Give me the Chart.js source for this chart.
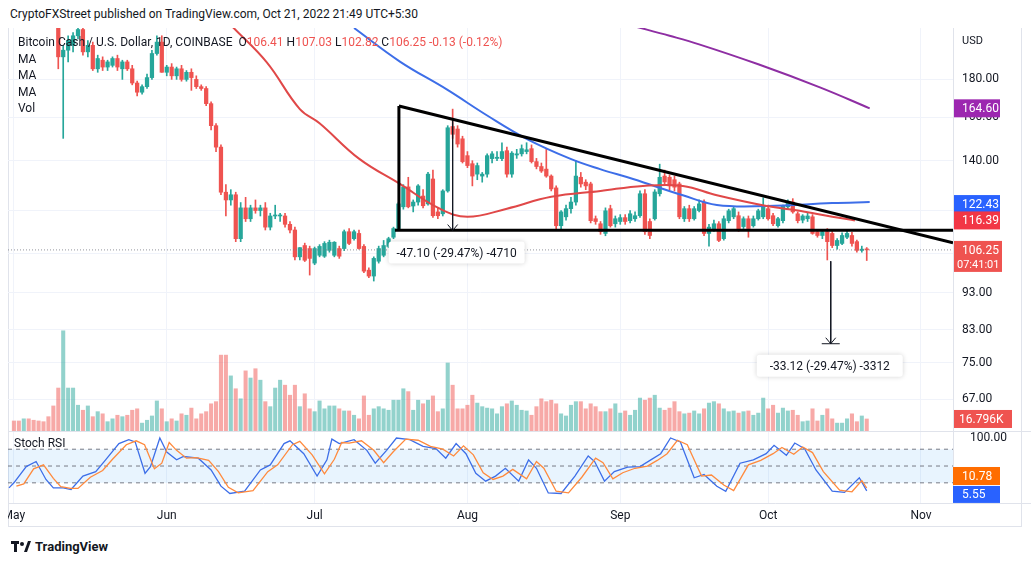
<!DOCTYPE html>
<html><head><meta charset="utf-8">
<script src="https://cdn.jsdelivr.net/npm/chart.js@4.4.0/dist/chart.umd.min.js"></script>
<style>
body{margin:0;width:1031px;height:564px;background:#fff;font-family:Roboto,"Liberation Sans",sans-serif;color:#131722;position:relative;overflow:hidden}
#hdr{position:absolute;left:10px;top:7px;font-size:12px}
#frame{position:absolute;left:8px;top:28px;width:1014px;height:499px;border:1px solid #e0e3eb;border-top:none;box-sizing:border-box}
#c1{position:absolute;left:8px;top:28px}
#c2{position:absolute;left:8px;top:431px}
#leg{position:absolute;left:18px;top:34px;font-size:12px;line-height:16.5px}
#leg .r{color:#ef5350}
#usd{position:absolute;left:962px;top:34px;font-size:11px}
#ftr{position:absolute;left:11px;top:539px;font-size:13px;font-weight:bold;display:flex;align-items:center;gap:4px}
</style></head><body>
<div id="hdr">CryptoFXStreet published on TradingView.com, Oct 21, 2022 21:49 UTC+5:30</div>
<div id="frame"></div>
<canvas id="c1" width="1023" height="403"></canvas>
<canvas id="c2" width="1023" height="96"></canvas>
<div id="leg">Bitcoin Cash / U.S. Dollar, 1D, COINBASE &nbsp;O<span class="r">106.41</span> H<span class="r">107.03</span> L<span class="r">102.82</span> C<span class="r">106.25</span> <span class="r">-0.13 (-0.12%)</span><br>MA<br>MA<br>MA<br>Vol</div>
<div id="usd">USD</div>
<div id="ftr"><svg width="20" height="12" viewBox="0 0 20 12"><rect x="0" y="0" width="8" height="3" fill="#131722"/><rect x="3" y="0" width="3" height="11" fill="#131722"/><circle cx="11" cy="3" r="2" fill="#131722"/><path d="M13 11 L17 0 L20 0 L16 11 Z" fill="#131722"/></svg>TradingView</div>
<script>
// ---------- DATA ----------
const monthDays = [0,31,61,92,123,153,184];
const monthLabels = ["May","Jun","Jul","Aug","Sep","Oct","Nov"];
// daily candles [open, high, low, close], day 0 = May 1, 2022
const ohlc = [
[300,305,290,296],[296,300,282,285],[285,292,278,290],[290,293,275,280],[280,284,262,265],[265,270,245,250],[250,258,238,240],[240,248,228,232],[232,236,215,218],
[218,222,186,193],[193,200,150,197],[197,206,190,203],[200,208,196,206],[206,212,204,210],[210,212,194,196],[196,203,193,200],[200,202,185,186],[186,194,184,192],[191,193,185,187],
[187,191,185,190],[188,193,187,192],[192,194,185,187],[186,191,180,190],[190,191,185,186],[186,188,177,178],[178,179,171,173],[173,177,172,176],[176,183,175,181],[181,197,180,195],
[195,206,194,202],[202,206,184,184],[184,188,182,187],[187,189,180,182],[182,187,180,186],[186,188,179,180],[180,185,179,184],[184,186,174,181],[180,182,175,176],[176,177,174,175],
[175,176,166,167],[167,168,154,156],[156,157,144,146],[146,147,126,127],[127,130,118,124],[124,128,122,126],[126,127,109,110],[110,123,109,121],[121,125,116,117],[117,122,116,121],
[121,124,119,120],[120,122,118,121],[121,123,113,114],[114,119,113,118],[118,122,117,118],[118,119,116,118],[118,119,114,115],[115,116,112,113],[113,114,103,104],[104,107,103,107],
[107.7,108.5,102.5,102.9],[106.7,107.5,98.3,103.5],[102,107.2,101.5,106.7],[104.5,108,104,107.4],[104.2,109,103.8,108.4],[106.1,109.5,105.5,108.8],[104.5,109,104,108.8],[106.7,107.5,103.5,104.2],
[106.7,113,106,112.4],[112.4,113.5,108,108.4],[110,113,109.5,112.4],[111.8,113,106.5,106.7],[107.4,108,99,99.5],[99.8,100.5,97.5,98],[98,104,96.5,103.5],[102.6,107.5,102,106.7],
[104.5,109.4,104,107.7],[107.4,110.5,107,110],[110.5,114,110,113.5],[113.5,123,113,122.5],[121.4,130,120.5,129.1],[129.1,133,121,121.4],[121.7,124,119.5,123.2],[123.2,130,122,129.5],
[125.5,128,121,121.8],[122.5,135,122,134.3],[132.3,136,117.5,118.1],[119.5,121,117,118.1],[118.8,128,118,127.5],[127.5,156,127,155],[155.6,164.2,150,151.9],[154.4,156,146,147.4],
[149.8,151,139,139.6],[142.2,144,137,137.9],[138.7,140,129.5,133.5],[134.3,139,132,137.9],[133.5,135,131,134.3],[134.3,143,133,142.2],[140.9,144,139,143],[141,144,140,141.5],
[140.9,148,140,144],[144.4,146,133,134.3],[134.3,144,133,143.3],[142.5,145,141,143],[143,147,142,145.3],[144,148,143,144.8],[145.3,147,139,139.6],[139.6,141,136.5,137.5],
[137.5,139,135,135.6],[136.4,145,133,133.5],[133.5,134,127.5,128.3],[128.7,129.5,113.5,114.5],[114.5,120,113.5,119.5],[117.7,122,116.5,120.7],[120.7,125,119,123.2],[123.2,140,122,133.5],
[133,135,129,130.3],[131,132,128,129.5],[130.3,131,115.5,116.3],[117,118,115,116],
[115.2,116,111.5,112.4],[111.8,121,111,119.9],[120.7,122,114,114.5],[115.2,118,114,117],[116,118.5,115,117.4],[117.4,118.5,115,116],[116.3,120,115.5,118.8],[117,119.5,116,118.1],
[118.1,127.5,117.5,126.4],[126.4,128,111.5,112.4],[116,117,110,111.1],[117,128,116.5,127.1],[126.4,138.5,125.5,133],[133.5,136,130,131.1],[133,134,128,129.5],[132,133.5,127.5,129],
[130.3,131,117,117.7],[117,121.5,116,120.7],[120.7,122,116,117],[117,121.5,116.5,120.7],[120,124,119.5,122.5],[123.2,124,111,111.8],[111.8,115,107.5,114],[113.1,116.5,112.5,115.2],
[115.2,116,109,109.4],[110,118,109.5,117],[116.3,120.5,115.5,119.9],[117.7,121.5,117,120.7],[118.1,119.5,112.5,113.1],[114.2,117.7,113.5,117],[117,118,110.5,113.5],[114.5,118,114,117],
[117,120.5,116.5,119.9],[117.7,124.8,117,121.4],[120.7,122,116.5,117],[118.1,119,114.5,115.2],[114.5,117.5,114,117],[116.3,122,115.5,121.7],[121.4,124,120.5,123.2],[123.2,124.5,119,119.5],
[118.8,119.5,115.5,116.3],[116.5,118.5,115.5,118],[117,119,116,118],[117.7,118.5,111.5,111.8],[112.4,113,110.5,111.1],[111.1,113,110,112.4],[112.4,113.5,103,109],[111.8,112.5,107,107.7],
[107.7,110,106.5,109.4],[108.4,112,108,111.1],[110.5,112.5,110,111.8],[111.1,112.2,107.5,108.4],[109,109.5,105.5,106.1],[106.1,107.5,105.5,106.5],[106.41,107.03,102.82,106.25]
];
// volume in thousands
const volume = [14,14,17,17,15,14,13,20,35,60,140,
60,60,36,29,35,20,27,24,13,17,22,20,22,29,31,11,15,21,42,31,13,17,14,24,22,32,17,24,27,38,41,
106,106,
77,59,45,84,74,87,71,41,34,60,71,64,50,64,34,52,31,27,42,31,35,35,31,28,28,22,17,49,22,31,
34,31,29,43,43,59,55,29,43,38,43,49,27,31,
95,
64,31,31,36,50,39,34,32,31,24,34,38,42,36,29,28,22,34,45,41,43,38,24,21,36,41,41,31,38,34,
27,27,31,38,25,28,22,29,46,43,46,50,32,29,32,41,27,24,25,28,24,31,39,41,38,31,27,28,25,27,
28,22,25,46,31,36,25,32,28,29,22,13,14,31,14,22,31,17,11,11,17,24,13,21,16.796];
// moving averages [day, price]
const maRed = [[44.4,211.6],[51.3,189.7],[58,164.2],[62,157.2],[70,140.9],[78.3,130.3],[86.4,120.7],[92,117.7],[100,120.7],[109,125.2],[119,127.5],[127.6,129.5],[135.7,129.5],[142.6,125.8],[152.7,121.7],[159.4,119.9],[166,117.7],[170.6,116.4]];
const maBlue = [[69,211],[78.3,190.2],[87.8,174.5],[96,161],[104,149.8],[112.8,140.9],[118.9,136.4],[125.6,132.3],[135.7,125.8],[142.6,122.1],[152.7,121.7],[166,122.8],[173.6,123.2]];
const maPurple = [[126,212],[133,206],[139,200.6],[151,188.6],[163.5,175.6],[173.6,164.6]];
// stoch RSI [day, value]
const stochK = [[-1,11],[0,20],[2.5,49],[4.5,58],[6.5,26],[8,11],[10,11],[11.6,8],[14,32],[16.6,40],[18.6,61],[21.3,90],[23.3,97],[24.6,93],[26.6,37],[27.7,49],[29.6,100],[31,75],[33,61],[34.4,67],[37.4,64],[40,43],[42,14],[43.8,1],[46.8,5],[50,43],[52,52],[54.8,90],[56,95],[58.8,72],[61.5,32],[63.5,61],[64.5,98],[66,90],[69,97],[71.6,78],[73.3,55],[75.6,78],[77.6,100],[80.3,97],[83,85],[85.6,81],[87.6,64],[89.7,90],[91.7,72],[93.7,37],[95.7,23],[97.7,32],[99.7,46],[102.4,23],[104.4,61],[106,46],[108.4,2],[111,1],[113.8,32],[116.5,68],[117.8,58],[119.8,23],[121.8,40],[124.5,48],[127,49],[129.2,61],[131.2,72],[133.2,100],[135.2,93],[138,29],[140,35],[142.6,14],[144.4,5],[147.3,55],[150,61],[152.6,72],[154.2,87],[156.7,69],[158.4,91],[160.4,81],[162.7,43],[166,5],[168.5,3],[171.5,29],[173,5.55]];
const stochD = [[0.5,14],[2,18],[4,45],[6,52],[8,28],[9.5,13],[11.5,10],[13,10],[15.5,30],[18,42],[20,62],[22.8,88],[24.8,95],[26.5,88],[28.5,45],[30,55],[31.5,92],[33,78],[35,64],[37,65],[39.5,60],[41.5,40],[43.5,12],[45.5,2],[48.5,6],[51.5,40],[53.5,52],[56.5,88],[58,94],[60.5,70],[63,36],[65,62],[66.5,92],[68,91],[70.5,95],[73,78],[75,56],[77,76],[79.5,98],[82,96],[84.5,85],[87,80],[89.2,68],[91.2,86],[93.2,70],[95.2,38],[97.2,26],[99.2,32],[101.2,44],[104,27],[106,58],[107.5,46],[110,5],[112.5,2],[115.2,30],[118,64],[119.5,56],[121.5,27],[123.5,38],[126,46],[128.5,50],[130.5,60],[132.5,72],[134.6,96],[136.6,88],[139.5,32],[141.5,34],[144,16],[146,6],[149,52],[151.5,60],[154,72],[155.8,83],[158.2,71],[160,84],[162,74],[164.2,40],[167.5,7],[170,4],[172,24],[173,10.78]];
// drawn pattern lines [day, price]
const triVertical = [[78.1,165.8],[78.1,112.8]];
const triUpper = [[78.1,165.8],[190.5,108.6]];
const triLower = [[77.3,112.9],[190.5,112.9]];
const arrow1 = [[89,159.5],[89,112.8]];
const arrow2 = [[165.7,102.6],[165.7,79.5]];
const arrowLabels = ["-47.10 (-29.47%) -4710","-33.12 (-29.47%) -3312"];
const priceTicks = [67,75,83,93,105,120,140,160,180];
const lastClose = 106.25, lastTime = "07:41:01", lastVolLabel = "16.796K";
const maLast = {purple:164.60, blue:122.43, red:116.39};
// ---------- BUILD ----------
const GREEN='#26a69a', RED='#ef5350';
const days = ohlc.map((_,i)=>i);
const isUp = i => ohlc[i][3] >= ohlc[i][0];
const pts = a => a.map(p=>({x:p[0],y:p[1]}));
const XMIN=-1.2, XMAX=190.5;
function fixAxisWidth(s){ s.width = 78; s.paddingTop = 0; s.paddingBottom = 0; }
function noPadX(s,h){ s.height = h; s.paddingLeft = 0; s.paddingRight = 0; }
const FONT='12px Roboto, "Liberation Sans", sans-serif';

const mainPlugin = {
  id:'mainDeco',
  afterDatasetsDraw(chart){
    const {ctx, chartArea:a, scales:{x,y}} = chart;
    ctx.save();
    const yc = y.getPixelForValue(lastClose);
    ctx.strokeStyle='rgba(120,123,134,0.8)'; ctx.lineWidth=1; ctx.setLineDash([1,2]);
    ctx.beginPath(); ctx.moveTo(a.left,yc); ctx.lineTo(a.right,yc); ctx.stroke(); ctx.setLineDash([]);
    ctx.strokeStyle='#131722'; ctx.lineWidth=1;
    const ax1=x.getPixelForValue(arrow1[1][0]), ay1=y.getPixelForValue(arrow1[1][1]);
    ctx.beginPath(); ctx.moveTo(ax1-5,ay1-6); ctx.lineTo(ax1,ay1); ctx.lineTo(ax1+5,ay1-6); ctx.stroke();
    const ax2=x.getPixelForValue(arrow2[1][0]), ay2=y.getPixelForValue(arrow2[1][1]);
    ctx.beginPath(); ctx.moveTo(ax2-5,ay2-6); ctx.lineTo(ax2,ay2); ctx.lineTo(ax2+5,ay2-6); ctx.stroke();
    ctx.beginPath(); ctx.moveTo(ax2-9,ay2); ctx.lineTo(ax2+9,ay2); ctx.stroke();
    function box(cx,cy,w,txt){
      ctx.save(); ctx.shadowColor='rgba(0,0,0,0.18)'; ctx.shadowBlur=5;
      ctx.fillStyle='#fff'; ctx.beginPath(); ctx.roundRect(cx-w/2,cy-11,w,22,3); ctx.fill(); ctx.restore();
      ctx.fillStyle='#131722'; ctx.font=FONT;
      ctx.textAlign='center'; ctx.textBaseline='middle'; ctx.fillText(txt,cx,cy+1);
    }
    box(ax1+4, ay1+22, 136, arrowLabels[0]);
    box(ax2-1, ay2+22, 146, arrowLabels[1]);
    ctx.font=FONT; ctx.textAlign='left'; ctx.textBaseline='middle';
    function tag(val,txt,bg){
      const ty=y.getPixelForValue(val);
      ctx.fillStyle=bg; ctx.fillRect(a.right,ty-9,47,18);
      ctx.fillStyle='#fff'; ctx.fillText(txt,a.right+9,ty+1);
    }
    tag(maLast.purple, maLast.purple.toFixed(2), '#9c27b0');
    tag(maLast.blue, maLast.blue.toFixed(2), '#2962ff');
    tag(maLast.red, maLast.red.toFixed(2), '#f23645');
    ctx.fillStyle=RED; ctx.fillRect(a.right,yc-9,49,31);
    ctx.fillStyle='#fff'; ctx.fillText(lastClose.toFixed(2),a.right+9,yc+1);
    ctx.font='11px Roboto, "Liberation Sans", sans-serif'; ctx.fillText(lastTime,a.right+4,yc+15);
    ctx.font=FONT;
    const v = chart.scales.v, vy=v.getPixelForValue(volume[volume.length-1]);
    ctx.fillStyle=RED; ctx.fillRect(a.right,vy-9,59,18);
    ctx.fillStyle='#fff'; ctx.fillText(lastVolLabel,a.right+6,vy+1);
    ctx.strokeStyle='#e0e3eb'; ctx.beginPath(); ctx.moveTo(a.right+0.5,0); ctx.lineTo(a.right+0.5,chart.height); ctx.stroke();
    ctx.restore();
  }
};

new Chart(document.getElementById('c1'), {
  type:'bar',
  data:{datasets:[
    {type:'line',data:pts(triVertical),borderColor:'#000',borderWidth:3,pointRadius:0,order:1,yAxisID:'y'},
    {type:'line',data:pts(triUpper),borderColor:'#000',borderWidth:3,pointRadius:0,order:1,yAxisID:'y'},
    {type:'line',data:pts(triLower),borderColor:'#000',borderWidth:3,pointRadius:0,order:1,yAxisID:'y'},
    {type:'line',data:pts(arrow1),borderColor:'#131722',borderWidth:1,pointRadius:0,order:1,yAxisID:'y'},
    {type:'line',data:pts(arrow2),borderColor:'#131722',borderWidth:1,pointRadius:0,order:1,yAxisID:'y'},
    {type:'line',data:pts(maRed),borderColor:'#e04848',borderWidth:2,pointRadius:0,tension:0.4,order:2,yAxisID:'y'},
    {type:'line',data:pts(maBlue),borderColor:'#3d6ee8',borderWidth:2,pointRadius:0,tension:0.4,order:2,yAxisID:'y'},
    {type:'line',data:pts(maPurple),borderColor:'#8e2ea3',borderWidth:2,pointRadius:0,tension:0.4,order:2,yAxisID:'y'},
    {data:days.map(i=>({x:i,y:[ohlc[i][0],ohlc[i][3]]})),backgroundColor:days.map(i=>isUp(i)?GREEN:RED),barThickness:3.6,minBarLength:1,order:3,yAxisID:'y',grouped:false},
    {data:days.map(i=>({x:i,y:[ohlc[i][2],ohlc[i][1]]})),backgroundColor:days.map(i=>isUp(i)?GREEN:RED),barThickness:1,order:4,yAxisID:'y',grouped:false},
    {data:days.map(i=>({x:i,y:volume[i]})),backgroundColor:days.map(i=>isUp(i)?'rgba(38,166,154,0.5)':'rgba(239,83,80,0.5)'),barThickness:3.4,order:9,yAxisID:'v',grouped:false}
  ]},
  options:{
    responsive:false,animation:false,events:[],
    layout:{padding:0},
    plugins:{legend:{display:false},tooltip:{enabled:false}},
    scales:{
      x:{type:'linear',offset:false,min:XMIN,max:XMAX,afterBuildTicks:s=>{s.ticks=monthDays.map(v=>({value:v}));},
         ticks:{display:false},grid:{color:'#f0f3fa',drawTicks:false,offset:false},border:{display:false},afterFit:s=>noPadX(s,0)},
      y:{type:'logarithmic',position:'right',min:60.7,max:211,
         afterBuildTicks:s=>{s.ticks=priceTicks.map(v=>({value:v}));},
         ticks:{callback:v=>Number(v).toFixed(2),color:'#131722',font:{size:12,family:'Roboto'},padding:9},
         grid:{color:'#f0f3fa',drawTicks:false},border:{display:false},afterFit:fixAxisWidth},
      v:{type:'linear',display:false,min:0,max:563}
    }
  },
  plugins:[mainPlugin]
});

const stochPlugin = {
  id:'stochDeco',
  beforeDatasetsDraw(chart){
    const {ctx, chartArea:a, scales:{y}} = chart;
    ctx.save();
    const y80=y.getPixelForValue(80), y20=y.getPixelForValue(20), y50=y.getPixelForValue(50);
    ctx.fillStyle='rgba(33,150,243,0.1)'; ctx.fillRect(a.left,y80,a.right-a.left,y20-y80);
    ctx.strokeStyle='#787b86'; ctx.lineWidth=1; ctx.setLineDash([4,4]);
    [y80,y50,y20].forEach(v=>{ctx.beginPath();ctx.moveTo(a.left,v);ctx.lineTo(a.right,v);ctx.stroke();});
    ctx.setLineDash([]);
    ctx.strokeStyle='#e0e3eb';
    ctx.beginPath(); ctx.moveTo(0,0.5); ctx.lineTo(chart.width,0.5); ctx.stroke();
    ctx.beginPath(); ctx.moveTo(0,a.bottom+0.5); ctx.lineTo(chart.width,a.bottom+0.5); ctx.stroke();
    ctx.beginPath(); ctx.moveTo(a.right+0.5,0); ctx.lineTo(a.right+0.5,a.bottom); ctx.stroke();
    ctx.fillStyle='#131722'; ctx.font=FONT; ctx.textBaseline='middle';
    ctx.fillText('Stoch RSI', a.left+6, 13);
    ctx.restore();
  },
  afterDatasetsDraw(chart){
    const {ctx, chartArea:a, scales:{y}} = chart;
    ctx.save(); ctx.font=FONT; ctx.textBaseline='middle';
    const d=stochD[stochD.length-1][1], k=stochK[stochK.length-1][1];
    const yd=y.getPixelForValue(d)-12, yk=y.getPixelForValue(k)+3;
    ctx.fillStyle='#ff6d00'; ctx.fillRect(a.right,yd-9,47,18);
    ctx.fillStyle='#2962ff'; ctx.fillRect(a.right,yk-8,47,17);
    ctx.fillStyle='#fff'; ctx.fillText(d.toFixed(2),a.right+9,yd+1); ctx.fillText(k.toFixed(2),a.right+9,yk+1);
    ctx.restore();
  }
};

new Chart(document.getElementById('c2'), {
  type:'line',
  data:{datasets:[
    {data:pts(stochD),borderColor:'#ff8a3d',borderWidth:1.3,pointRadius:0},
    {data:pts(stochK),borderColor:'#3d6ee8',borderWidth:1.3,pointRadius:0}
  ]},
  options:{
    responsive:false,animation:false,events:[],layout:{padding:0},
    plugins:{legend:{display:false},tooltip:{enabled:false}},
    scales:{
      x:{type:'linear',offset:false,min:XMIN,max:XMAX,afterBuildTicks:s=>{s.ticks=monthDays.map(v=>({value:v}));},
         ticks:{callback:v=>monthLabels[monthDays.indexOf(v)],color:'#131722',font:{size:12,family:'Roboto'},maxRotation:0,autoSkip:false,padding:6},
         grid:{color:'#f0f3fa',drawTicks:false},border:{display:false},afterFit:s=>noPadX(s,24)},
      y:{type:'linear',position:'right',min:-16,max:112.5,
         afterBuildTicks:s=>{s.ticks=[{value:100}];},
         ticks:{callback:v=>Number(v).toFixed(2),color:'#131722',font:{size:12,family:'Roboto'},padding:9},
         grid:{display:false},border:{display:false},afterFit:fixAxisWidth}
    }
  },
  plugins:[stochPlugin]
});
</script>
</body></html>
